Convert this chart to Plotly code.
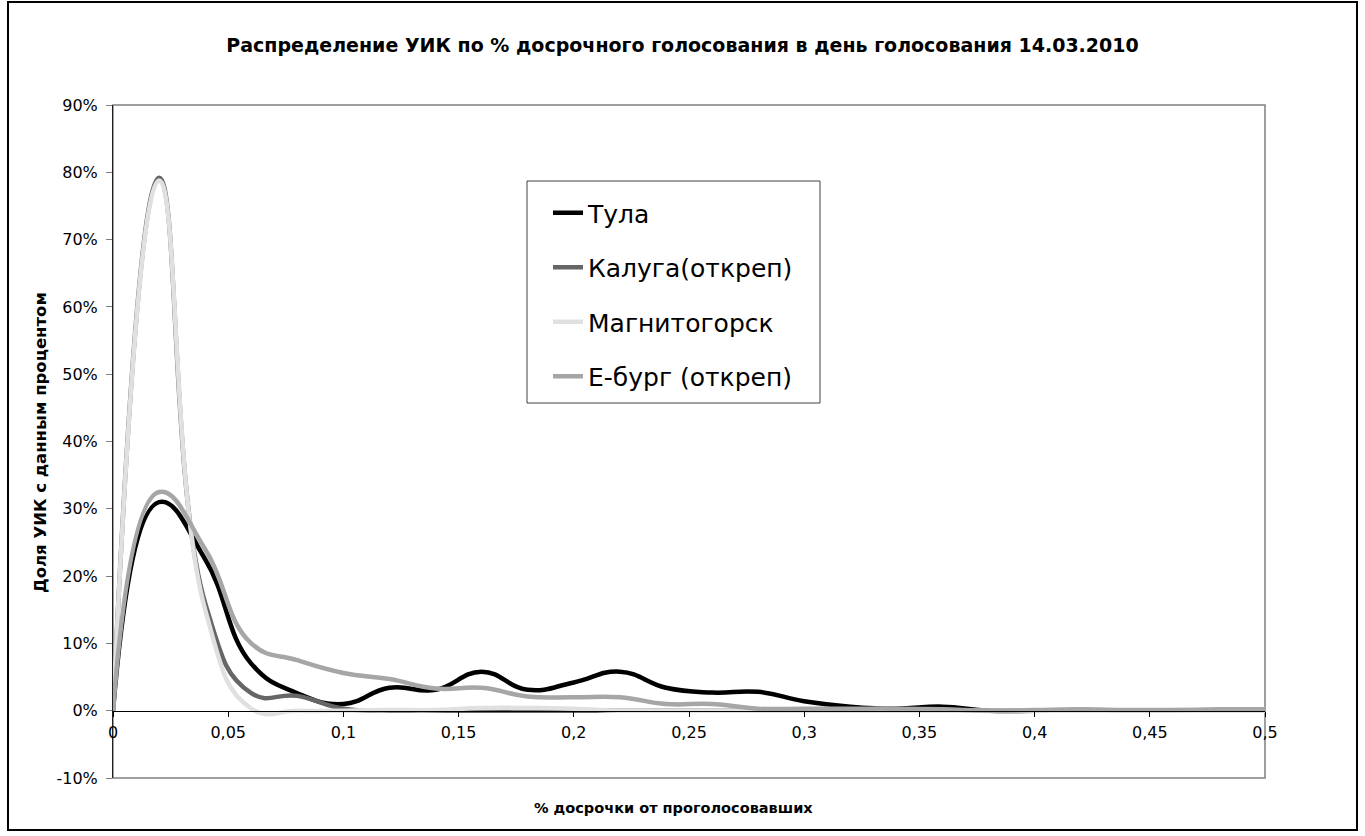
import plotly.graph_objects as go

# x positions (share of early votes), step 0.02
x_vals = [0.00, 0.02, 0.04, 0.06, 0.08, 0.10, 0.12, 0.14, 0.16, 0.18, 0.20, 0.22, 0.24,
          0.26, 0.28, 0.30, 0.32, 0.34, 0.36, 0.38, 0.40, 0.42, 0.44, 0.46, 0.48, 0.50]

tula = [0.0, 31.0, 22.5, 7.0, 2.6, 1.0, 3.4, 3.1, 5.8, 3.1, 4.2, 5.8, 3.4,
        2.7, 2.8, 1.4, 0.6, 0.3, 0.6, 0.0, 0.0, 0.1, 0.0, 0.0, 0.0, 0.0]
kaluga = [0.0, 79.2, 16.0, 2.6, 2.2, 0.3, 0.0, 0.0, 0.0, 0.0, 0.0, 0.0, 0.0,
          0.0, 0.0, 0.0, 0.0, 0.0, 0.0, 0.0, 0.0, 0.0, 0.0, 0.0, 0.0, 0.0]
magnitogorsk = [0.0, 78.8, 15.0, 0.3, 0.0, 0.0, 0.1, 0.1, 0.4, 0.4, 0.3, 0.0, 0.0,
                0.0, 0.0, 0.0, 0.0, 0.0, 0.0, 0.0, 0.0, 0.0, 0.0, 0.0, 0.0, 0.0]
eburg = [0.0, 32.5, 24.0, 10.0, 7.5, 5.6, 4.7, 3.3, 3.4, 2.1, 2.0, 2.0, 1.0,
         1.0, 0.3, 0.3, 0.3, 0.3, 0.2, 0.0, 0.1, 0.2, 0.1, 0.1, 0.2, 0.2]

series_names = ["Тула", "Калуга(откреп)", "Магнитогорск", "Е-бург (откреп)"]
series_vals = [tula, kaluga, magnitogorsk, eburg]
series_colors = ["#000000", "#666666", "#e0e0e0", "#a6a6a6"]

x_ticks = [0, 0.05, 0.1, 0.15, 0.2, 0.25, 0.3, 0.35, 0.4, 0.45, 0.5]
x_ticktext = ["0", "0,05", "0,1", "0,15", "0,2", "0,25", "0,3", "0,35", "0,4", "0,45", "0,5"]
y_ticks = [-10, 0, 10, 20, 30, 40, 50, 60, 70, 80, 90]
y_ticktext = [f"{v}%" for v in y_ticks]

FONT = "DejaVu Sans"
W, H = 1365, 836
L, R, T, B = 113, 100, 105, 58
PW, PH = W - L - R, H - T - B


def px(xp):
    return (xp - L) / PW


def py(yp):
    return (H - B - yp) / PH


fig = go.Figure()
for i, (name, vals, col) in enumerate(zip(series_names, series_vals, series_colors)):
    fig.add_trace(go.Scatter(
        x=x_vals, y=vals, name=name, mode="lines",
        line=dict(color=col, width=4.5, shape="spline", smoothing=1.3),
        legendgroup=f"g{i}",
    ))

fig.update_layout(
    width=W, height=H,
    margin=dict(l=L, r=R, t=T, b=B),
    paper_bgcolor="white", plot_bgcolor="white",
    font=dict(family=FONT, color="black", size=16),
    separators=", ",
    title=dict(
        text="<b>Распределение УИК по % досрочного голосования в день голосования 14.03.2010</b>",
        x=0.5, xref="container", xanchor="center",
        y=1 - 45 / H, yref="container", yanchor="middle",
        font=dict(family=FONT, size=19, color="black"),
    ),
    xaxis=dict(
        range=[0, 0.5], tickvals=x_ticks, ticktext=x_ticktext,
        showgrid=False, zeroline=False,
        showline=True, linecolor="black", linewidth=1,
        ticks="outside", ticklen=5, tickcolor="black",
        anchor="free", position=0.1, ticklabelstandoff=2,
        tickfont=dict(family=FONT, size=16, color="black"),
    ),
    yaxis=dict(
        range=[-10, 90], tickvals=y_ticks, ticktext=y_ticktext,
        showgrid=False, zeroline=False,
        showline=True, linecolor="#202020", linewidth=1,
        ticks="outside", ticklen=6, tickcolor="#808080",
        ticklabelstandoff=5,
        tickfont=dict(family=FONT, size=16, color="black"),
    ),
    legend=dict(
        x=px(548), y=py(190),
        xanchor="left", yanchor="top",
        bgcolor="rgba(0,0,0,0)", borderwidth=0,
        font=dict(family=FONT, size=25, color="black"),
        tracegroupgap=19, itemwidth=30,
    ),
    showlegend=True,
)

# plot-area frame (grey)
fig.add_shape(type="rect", xref="x domain", yref="y domain", x0=0, x1=1, y0=0, y1=1,
              line=dict(color="#808080", width=1.5), layer="below")
# legend frame
fig.add_shape(type="rect", xref="paper", yref="paper",
              x0=px(527), x1=px(820), y0=py(403), y1=py(181),
              line=dict(color="#404040", width=1))
# outer chart frame (black)
fig.add_shape(type="rect", xref="paper", yref="paper",
              x0=px(8), x1=px(1357), y0=py(830), y1=py(2),
              line=dict(color="black", width=2))

fig.add_annotation(text="<b>Доля УИК с данным процентом</b>", textangle=-90,
                   xref="paper", yref="paper", x=px(40), y=py(443),
                   showarrow=False, font=dict(family=FONT, size=16.5, color="black"),
                   xanchor="center", yanchor="middle")
fig.add_annotation(text="<b>% досрочки от проголосовавших</b>",
                   xref="paper", yref="paper", x=px(673), y=py(808),
                   showarrow=False, font=dict(family=FONT, size=14.5, color="black"),
                   xanchor="center", yanchor="middle")

fig.write_html("out.html", config={"displayModeBar": False},
               post_script="document.body.style.margin='0';")
